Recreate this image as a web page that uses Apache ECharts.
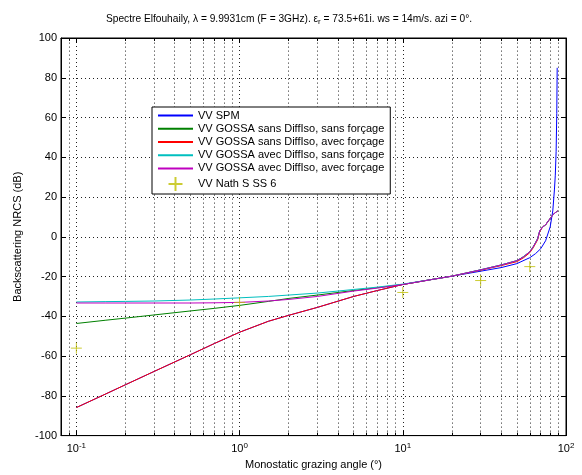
<!DOCTYPE html>
<html>
<head>
<meta charset="utf-8">
<script src="https://cdn.jsdelivr.net/npm/echarts@6/dist/echarts.min.js"></script>
<style>html,body{margin:0;padding:0;background:#fff}#c{width:582px;height:475px}</style>
</head>
<body>
<div id="c"></div>
<script>
// ---- data ----
const spmX = [0.1, 0.15, 0.2, 0.3, 0.5, 0.7, 1, 1.5, 2, 3, 5, 7, 10, 15, 20, 30, 40, 50, 60, 65, 70, 75, 80, 83, 85, 86, 87, 87.8, 88.3];
const spmY = [-85.9, -79.2, -74.4, -67.7, -59.3, -53.7, -48, -42.5, -39.5, -35.5, -30, -27, -24, -21.5, -19.8, -17.3, -15.5, -13.5, -10.5, -8.5, -6, -2, 5, 13, 24, 31, 43, 62, 85];

const gossaX = [0.1, 0.15, 0.2, 0.3, 0.5, 0.7, 1, 1.5, 2, 3, 5, 7, 10, 15, 20, 30, 40, 50, 55, 60, 63, 65, 67, 69, 70, 72, 75, 78, 80, 83, 85, 87, 89];
const greenY = [-43.6, -42, -40.9, -39.3, -37.3, -36, -34.5, -32.5, -31, -29.3, -27, -25.6, -24, -21.5, -19.8, -16.6, -14.2, -12, -10, -7.5, -5, -3, -1, 3, 2, 5, 6, 8, 9, 11, 12, 12.5, 13];
const redY   = [-85.9, -79.2, -74.4, -67.7, -59.3, -53.7, -48, -42.5, -39.5, -35.5, -30, -27, -24, -21.5, -19.8, -16.8, -14.5, -12.5, -10.5, -8, -5.5, -3.5, -1.5, 2.5, 2, 5, 6, 8, 9, 11, 12, 12.5, 13];
const cyanY  = [-32.8, -32.6, -32.5, -32.3, -31.8, -31.3, -30.7, -30, -29.3, -28.3, -26.5, -25.3, -23.8, -21.5, -19.8, -16.6, -14.2, -12, -10, -7.5, -5, -3, -1, 3, 2, 5, 6, 8, 9, 11, 12, 12.5, 13];
const magY   = [-33.3, -33.3, -33.3, -33.3, -33.3, -33.2, -33, -32.3, -31.5, -30, -27.3, -25.8, -24, -21.5, -19.8, -16.6, -14.2, -12, -10, -7.5, -5, -3, -1, 3, 2, 5, 6, 8, 9, 11, 12, 12.5, 13];

const nathX = [0.1, 1, 10, 30, 60];
const nathY = [-56, -33, -28, -22, -15];

const seriesNames = ['VV SPM', 'VV GOSSA sans DiffIso, sans forçage', 'VV GOSSA sans DiffIso, avec forçage', 'VV GOSSA avec DiffIso, sans forçage', 'VV GOSSA avec DiffIso, avec forçage', 'VV Nath S SS 6'];
const minorX = [0.09, 0.2, 0.3, 0.4, 0.5, 0.6, 0.7, 0.8, 0.9, 2, 3, 4, 5, 6, 7, 8, 9, 20, 30, 40, 50, 60, 70, 80, 90];
const yTicks = { min: -100, max: 100, interval: 20 };
const xRange = { min: 0.0805, max: 100 };

// ---- chart ----
const pair = (xs, ys) => xs.map((x, i) => [x, ys[i]]);
const FONT = 'Liberation Sans, Arial, Helvetica, sans-serif';
const NATH_COLOR = '#bfbf00';
const PLUS = 'path://M5,0L5,10M0,5L10,5';
const chart = echarts.init(document.getElementById('c'), null, { renderer: 'canvas' });

function logLabel(v) {
  const e = Math.log10(v);
  if (Math.abs(e - Math.round(e)) > 1e-6) return '';
  return '{b|10}{s|' + Math.round(e) + '}';
}

const lineSeries = (name, xs, ys, color) => ({
  name, type: 'line', data: pair(xs, ys), symbol: 'none', showSymbol: false,
  lineStyle: { color, width: 1 }, itemStyle: { color }, z: 3, animation: false
});

const legendData = seriesNames.map((n, i) => i < 5
  ? { name: n, itemStyle: { color: 'transparent', borderColor: 'transparent', borderWidth: 0 } }
  : { name: n });

const option = {
  animation: false,
  backgroundColor: '#fff',
  textStyle: { fontFamily: FONT },
  title: {
    text: 'Spectre Elfouhaily, λ = 9.9931cm (F = 3GHz). ε{sub|r} = 73.5+61i. ws = 14m/s. azi = 0°.',
    left: 284, top: 7, textAlign: 'center',
    textStyle: {
      fontFamily: FONT, fontSize: 10.2, fontWeight: 'normal', color: '#000',
      rich: { sub: { fontFamily: FONT, fontSize: 8, color: '#000', verticalAlign: 'bottom', padding: [6, 0, 0, 0] } }
    }
  },
  grid: { left: 61, right: 16, top: 38, bottom: 35, show: true, borderColor: '#000', borderWidth: 1, backgroundColor: 'transparent' },
  legend: {
    data: legendData, orient: 'vertical', left: 152, top: 107, z: 20,
    backgroundColor: '#fff', borderColor: '#000', borderWidth: 1, padding: [3, 6, 2, 5],
    itemWidth: 35, itemHeight: 14, itemGap: 2,
    textStyle: { fontFamily: FONT, fontSize: 11, color: '#000' }
  },
  xAxis: [{
    type: 'log', logBase: 10, min: xRange.min, max: xRange.max, position: 'bottom',
    name: 'Monostatic grazing angle (°)', nameLocation: 'middle', nameGap: 21,
    nameTextStyle: { fontFamily: FONT, fontSize: 11, color: '#000' },
    axisLine: { onZero: false, lineStyle: { color: '#000', width: 1 } },
    axisTick: { inside: true, length: 5, lineStyle: { color: '#000' } },
    axisLabel: {
      formatter: logLabel, margin: 6, color: '#000',
      rich: { b: { fontFamily: FONT, fontSize: 11, color: '#000' }, s: { fontFamily: FONT, fontSize: 8, color: '#000', verticalAlign: 'top', padding: [0, 0, 6, 0] } }
    },
    splitLine: { show: true, lineStyle: { color: '#222', type: [1, 3], width: 1 } }
  }, {
    type: 'log', logBase: 10, min: xRange.min, max: xRange.max, position: 'top',
    axisLine: { onZero: false, lineStyle: { color: '#000' } },
    axisTick: { inside: true, length: 5, lineStyle: { color: '#000' } },
    axisLabel: { show: false }, splitLine: { show: false }
  }],
  yAxis: [{
    type: 'value', min: yTicks.min, max: yTicks.max, interval: yTicks.interval, position: 'left',
    name: 'Backscattering NRCS (dB)', nameLocation: 'middle', nameGap: 38,
    nameTextStyle: { fontFamily: FONT, fontSize: 11, color: '#000' },
    axisLine: { show: true, onZero: false, lineStyle: { color: '#000' } },
    axisTick: { inside: true, length: 5, lineStyle: { color: '#000' } },
    minorTick: { show: false },
    axisLabel: { fontFamily: FONT, fontSize: 11, color: '#000', margin: 4 },
    splitLine: { show: true, lineStyle: { color: '#222', type: [1, 3], width: 1 } }
  }, {
    type: 'value', min: yTicks.min, max: yTicks.max, interval: yTicks.interval, position: 'right',
    axisLine: { show: true, onZero: false, lineStyle: { color: '#000' } },
    axisTick: { inside: true, length: 5, lineStyle: { color: '#000' } },
    axisLabel: { show: false }, splitLine: { show: false }
  }],
  series: [
    {
      name: 'minor-grid', type: 'line', data: [], z: 1, silent: true,
      markLine: {
        silent: true, symbol: 'none', label: { show: false }, animation: false, z: 1,
        lineStyle: { color: '#222', type: [1, 3], width: 1 },
        data: minorX.map(v => ({ xAxis: v }))
      }
    },
    {
      name: 'minor-ticks', type: 'line', data: [], z: 1, silent: true,
      markLine: {
        silent: true, symbol: 'none', label: { show: false }, animation: false, z: 1,
        lineStyle: { color: '#000', type: 'solid', width: 1 },
        data: minorX.flatMap(v => [[{ coord: [v, yTicks.min] }, { coord: [v, yTicks.min + 1.5] }], [{ coord: [v, yTicks.max] }, { coord: [v, yTicks.max - 1.5] }]])
      }
    },
    lineSeries(seriesNames[0], spmX, spmY, '#0000ff'),
    lineSeries(seriesNames[1], gossaX, greenY, '#008000'),
    lineSeries(seriesNames[2], gossaX, redY, '#ff0000'),
    lineSeries(seriesNames[3], gossaX, cyanY, '#00bfbf'),
    lineSeries(seriesNames[4], gossaX, magY, '#bf00bf'),
    {
      name: seriesNames[5], type: 'scatter', data: pair(nathX, nathY), z: 4,
      symbol: PLUS, symbolSize: 11,
      itemStyle: { color: NATH_COLOR, borderColor: NATH_COLOR, borderWidth: 1 }
    }
  ]
};
chart.setOption(option);
</script>
</body>
</html>
